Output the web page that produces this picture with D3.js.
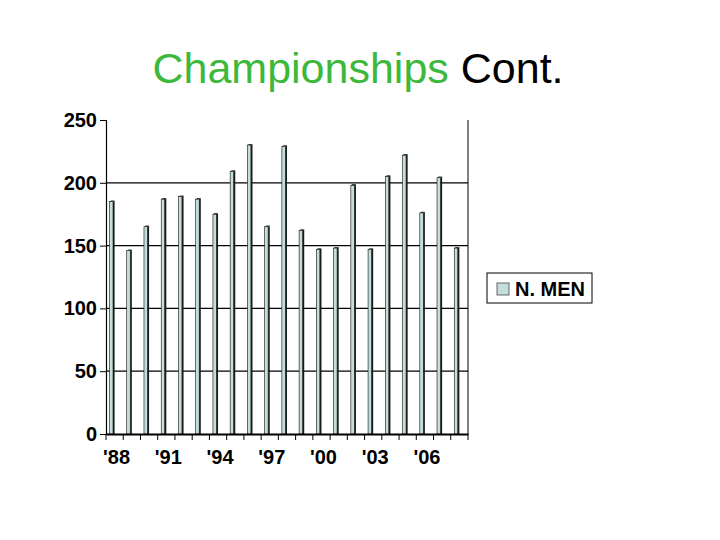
<!DOCTYPE html>
<html>
<head>
<meta charset="utf-8">
<script src="https://cdn.jsdelivr.net/npm/d3@7"></script>
<style>
  body { margin: 0; background: #fff; }
  svg { font-family: Arial, "Liberation Sans", sans-serif; }
</style>
</head>
<body>
<svg width="720" height="540"></svg>
<script>
var years = ["'88","'89","'90","'91","'92","'93","'94","'95","'96","'97","'98",
             "'99","'00","'01","'02","'03","'04","'05","'06","'07","'08"];
var menValues = [185, 146, 165, 187, 189, 187, 175, 209, 230, 165, 229,
                 162, 147, 148, 198, 147, 205, 222, 176, 204, 148];
var shownLabels = ["'88","'91","'94","'97","'00","'03","'06"];
var yTicks = [0, 50, 100, 150, 200, 250];
var seriesName = "N. MEN";

var svg = d3.select("svg");

// title, two colours
var title = svg.append("text")
    .attr("x", 358)
    .attr("y", 83)
    .attr("text-anchor", "middle")
    .style("font-size", "43px");
title.append("tspan").attr("fill", "#3cb93c").text("Championships");
title.append("tspan").attr("fill", "#000").text(" Cont.");

var plotLeft = 106, plotRight = 468, plotTop = 120, plotBottom = 434;

var x = d3.scaleBand().domain(years).range([plotLeft, plotRight]).padding(0);
var y = d3.scaleLinear().domain([0, 250]).range([plotBottom, plotTop]);

// gridlines
svg.append("g").selectAll("line")
  .data(yTicks.filter(function(t) { return t > 0 && t < 250; }))
  .enter().append("line")
    .attr("x1", plotLeft).attr("x2", plotRight)
    .attr("y1", function(d) { return y(d); })
    .attr("y2", function(d) { return y(d); })
    .attr("stroke", "#000").attr("stroke-width", 1.2);

// right frame line
svg.append("line")
    .attr("x1", plotRight).attr("x2", plotRight)
    .attr("y1", plotTop).attr("y2", plotBottom)
    .attr("stroke", "#000").attr("stroke-width", 1);

// bars (flat 3d look: light front, dark side)
var bw = x.bandwidth();
var bars = svg.append("g").selectAll("g")
  .data(menValues)
  .enter().append("g");

bars.append("rect")
    .attr("x", function(d, i) { return x(years[i]) + 3.5; })
    .attr("y", function(d) { return y(d); })
    .attr("width", 3.5)
    .attr("height", function(d) { return plotBottom - y(d); })
    .attr("fill", "#c4dedd")
    .attr("stroke", "#111").attr("stroke-width", 0.6);

bars.append("path")
    .attr("d", function(d, i) {
      var x0 = x(years[i]) + 7, yy = y(d);
      return "M" + x0 + "," + yy + "L" + (x0 + 1.6) + "," + (yy - 1.2) +
             "L" + (x0 + 1.6) + "," + plotBottom + "L" + x0 + "," + plotBottom + "Z";
    })
    .attr("fill", "#1a1a1a");

bars.append("path")
    .attr("d", function(d, i) {
      var x0 = x(years[i]) + 3.5, yy = y(d);
      return "M" + x0 + "," + yy + "L" + (x0 + 1.6) + "," + (yy - 1.2) +
             "L" + (x0 + 5.1) + "," + (yy - 1.2) + "L" + (x0 + 3.5) + "," + yy + "Z";
    })
    .attr("fill", "#333");

// y axis
var yAxis = svg.append("g")
    .attr("transform", "translate(" + plotLeft + ",0)")
    .call(d3.axisLeft(y).tickValues(yTicks).tickSize(6).tickPadding(3));
yAxis.select(".domain").attr("stroke", "#000").attr("stroke-width", 1.2);
yAxis.selectAll(".tick line").attr("stroke", "#000");
yAxis.selectAll(".tick text")
    .attr("fill", "#000")
    .style("font-size", "20px").style("font-weight", "bold")
    .style("font-family", "Arial, 'Liberation Sans', sans-serif");

// x axis
var xAxis = svg.append("g")
    .attr("transform", "translate(0," + plotBottom + ")")
    .call(d3.axisBottom(x).tickSize(0).tickPadding(16)
      .tickFormat(function(d) { return shownLabels.indexOf(d) > -1 ? d : ""; }));
xAxis.select(".domain").attr("stroke", "#000").attr("stroke-width", 2);
xAxis.selectAll(".tick text")
    .attr("fill", "#000")
    .attr("dx", 2)
    .style("font-size", "20px").style("font-weight", "bold")
    .style("font-family", "Arial, 'Liberation Sans', sans-serif");

// tick marks at category boundaries
svg.append("g").selectAll("line")
  .data(years.concat(["end"]))
  .enter().append("line")
    .attr("x1", function(d, i) { return plotLeft + i * bw; })
    .attr("x2", function(d, i) { return plotLeft + i * bw; })
    .attr("y1", plotBottom).attr("y2", plotBottom + 6)
    .attr("stroke", "#000").attr("stroke-width", 1);

// legend
var legend = svg.append("g").attr("transform", "translate(487,273)");
legend.append("rect")
    .attr("width", 105).attr("height", 30)
    .attr("fill", "#fff").attr("stroke", "#000").attr("stroke-width", 1);
legend.append("rect")
    .attr("x", 10).attr("y", 10).attr("width", 12).attr("height", 12)
    .attr("fill", "#c4dedd").attr("stroke", "#444").attr("stroke-width", 0.8);
legend.append("text")
    .attr("x", 28).attr("y", 23)
    .style("font-size", "20px").style("font-weight", "bold")
    .text(seriesName);
</script>
</body>
</html>
